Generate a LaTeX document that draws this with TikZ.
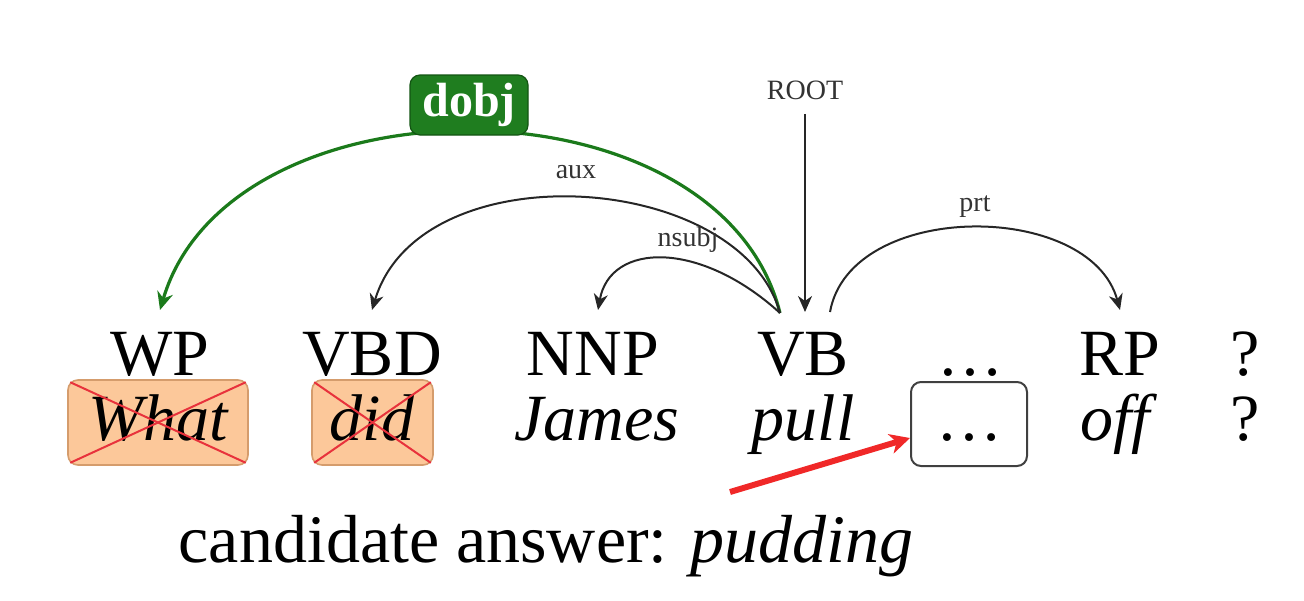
\documentclass[tikz,border=0pt]{standalone}
\usepackage{fontspec}
\setmainfont{Liberation Serif}
\usetikzlibrary{arrows.meta}
\definecolor{dgreen}{HTML}{1B7A1B}
\definecolor{boxgreen}{HTML}{1F7D1F}
\definecolor{peach}{HTML}{FCC89A}
\definecolor{peachborder}{HTML}{D59C6C}
\definecolor{xred}{HTML}{E8323C}
\definecolor{arrowred}{HTML}{F02828}
\definecolor{lblgray}{HTML}{333333}
\begin{document}
\begin{tikzpicture}[x=0.5pt,y=-0.5pt,
  tag/.style={anchor=base, inner sep=0pt, font=\fontsize{33}{40}\selectfont},
  word/.style={anchor=base, inner sep=0pt, font=\fontsize{33}{40}\selectfont\itshape},
  lbl/.style={font=\fontsize{14}{16}\selectfont, text=lblgray, inner sep=0pt},
  deparc/.style={line width=1pt, black!85, -{Stealth[length=8pt,width=7pt,inset=2.5pt]}},
  garc/.style={line width=1.6pt, dgreen, -{Stealth[length=9pt,width=8pt,inset=3pt]}},
  peachbox/.style={fill=peach, draw=peachborder, line width=0.8pt, rounded corners=5pt,
    minimum width=90pt, minimum height=42.5pt, inner sep=0pt},
  crossline/.style={xred, line width=1pt},
  emptybox/.style={draw=black!75, line width=1pt, rounded corners=5pt, fill=white,
    minimum width=58pt, minimum height=42pt, inner sep=0pt},
  redarrow/.style={arrowred, line width=3pt, -{Stealth[length=10pt,width=10pt,inset=3pt]}}
]
\useasboundingbox (0,0) rectangle (1304,600);

% POS tags
\node[tag] (wp)  at (160,375) {WP};
\node[tag] (vbd) at (372,375) {VBD};
\node[tag] (nnp) at (593,375) {NNP};
\node[tag] (vb)  at (803,375) {VB};
\node[tag] (dt)  at (970,375) {\dots};
\node[tag] (rp)  at (1120,375) {RP};
\node[tag] (q1)  at (1245,375) {?};

% word boxes
\node[peachbox, minimum width=90pt] (whatbox) at (158,422.5) {};
\node[peachbox, minimum width=60.5pt] (didbox) at (372.5,422.5) {};
\node[emptybox] (ebox) at (969,424) {};

% words
\node[word] (what)  at (158,440) {What};
\node[word] (did)   at (372,440) {did};
\node[word] (james) at (597,440) {James};
\node[word] (pull)  at (803,440) {pull};
\node[tag]  (edots) at (969,440) {\dots};
\node[word] (off)   at (1115,440) {off};
\node[tag]  (q2)    at (1245,440) {?};

% crosses
\draw[crossline] ([shift={(3,3)}]whatbox.north west) -- ([shift={(-3,-3)}]whatbox.south east);
\draw[crossline] ([shift={(3,-3)}]whatbox.south west) -- ([shift={(-3,3)}]whatbox.north east);
\draw[crossline] ([shift={(3,3)}]didbox.north west) -- ([shift={(-3,-3)}]didbox.south east);
\draw[crossline] ([shift={(3,-3)}]didbox.south west) -- ([shift={(-3,3)}]didbox.north east);

% arc endpoints
\coordinate (vbs)  at (780,313);
\coordinate (wpt)  at (160,310);
\coordinate (vbdt) at (372,310);
\coordinate (nnpt) at (598,310);
\coordinate (vbt)  at (805,312);
\coordinate (vbr)  at (830,312);
\coordinate (rpt)  at (1120,310);

% arcs
\draw[garc] (vbs) .. controls (720,72) and (230,72) .. (wpt);
\draw[deparc] (vbs) .. controls (740,170) and (420,150) .. (vbdt);
\draw[deparc] (vbs) .. controls (700,240) and (610,242) .. (nnpt);
\draw[deparc] (vbr) .. controls (850,200) and (1090,200) .. (rpt);

% labels
\node[fill=boxgreen, draw=dgreen!70!black, line width=0.6pt, rounded corners=5pt,
  minimum width=59pt, minimum height=30pt, inner sep=0pt,
  text=white, font=\fontsize{24}{26}\selectfont\bfseries] (dobj) at (469,105) {dobj};
\node[lbl] (root) at (805,90) {ROOT};
\node[lbl] (aux) at (576,172) {aux};
\node[lbl] (nsubj) at (688,240) {nsubj};
\node[lbl] (prt) at (975,207) {prt};

\draw[deparc] ([yshift=-7pt]root.south) -- (vbt);

% candidate
\coordinate (redtail) at (730,492);
\draw[redarrow] (redtail) -- ([yshift=-7pt]ebox.west);
\node[anchor=base, inner sep=0pt, font=\fontsize{34}{40}\selectfont] (cand) at (546,562)
  {candidate answer: \textit{pudding}};
\end{tikzpicture}
\end{document}
